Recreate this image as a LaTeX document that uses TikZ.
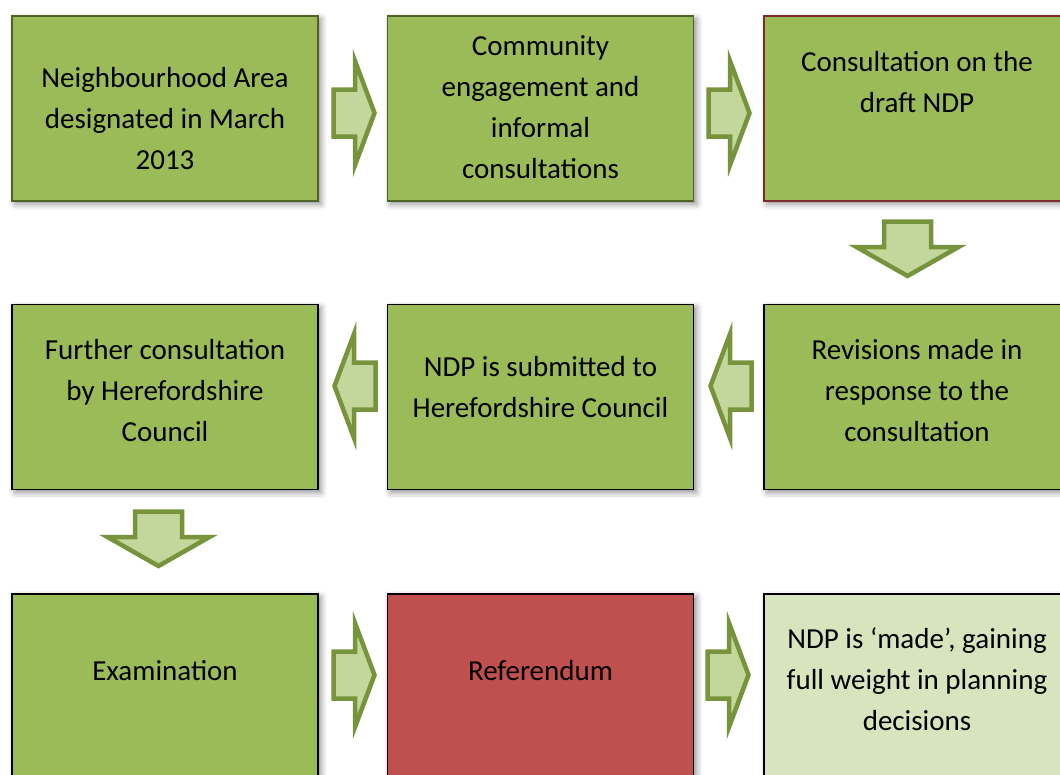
\documentclass[tikz,border=0pt]{standalone}
\usepackage{fontspec}
\setmainfont{Carlito}
\usetikzlibrary{shadows.blur}
\definecolor{boxgreen}{HTML}{9BBB59}
\definecolor{boxred}{HTML}{C0504D}
\definecolor{boxlight}{HTML}{D7E4BD}
\definecolor{darkolive}{HTML}{4F6228}
\definecolor{darkred}{HTML}{7F2B2B}
\definecolor{arrowfill}{HTML}{C3D69B}
\definecolor{arrowline}{HTML}{77933C}
\tikzset{
  stagebox/.style={rectangle, minimum width=306pt, minimum height=185pt, inner sep=0pt,
    fill=boxgreen, draw=black, line width=1.6pt,
    blur shadow={shadow xshift=3pt, shadow yshift=-3pt, shadow blur radius=6pt, shadow opacity=45}},
  stagetext/.style={align=center, inner sep=0pt, font=\fontsize{29}{41}\selectfont},
  blockarrow/.style={fill=arrowfill, draw=arrowline, line width=4.5pt, line join=miter}
}
\begin{document}
\begin{tikzpicture}[x=1pt,y=-1pt]
\useasboundingbox (0,0) rectangle (1060,774);
% boxes
\node[stagebox, draw=darkolive] (b1) at (165,108.5) {};
\node[stagebox, draw=darkolive] (b2) at (540.5,108.5) {};
\node[stagebox, draw=darkred] (b3) at (917,108.5) {};
\node[stagebox] (b4) at (165,397) {};
\node[stagebox] (b5) at (540.5,397) {};
\node[stagebox] (b6) at (917,397) {};
\node[stagebox] (b7) at (165,686.5) {};
\node[stagebox, fill=boxred] (b8) at (540.5,686.5) {};
\node[stagebox, fill=boxlight] (b9) at (917,686.5) {};
% texts
\node[stagetext] (t1) at (165,119) {Neighbourhood Area\\designated in March\\2013};
\node[stagetext] (t2) at (540.5,107.5) {Community\\engagement and\\informal\\consultations};
\node[stagetext] (t3) at (917,82) {Consultation on the\\draft NDP};
\node[stagetext] (t4) at (165,391) {Further consultation\\by Herefordshire\\Council};
\node[stagetext] (t5) at (540.5,387) {NDP is submitted to\\Herefordshire Council};
\node[stagetext] (t6) at (917,391) {Revisions made in\\response to the\\consultation};
\node[stagetext] (t7) at (165,671) {Examination};
\node[stagetext] (t8) at (540.5,671) {Referendum};
\node[stagetext] (t9) at (917,679) {NDP is ‘made’, gaining\\full weight in planning\\decisions};
% block arrows
\newcommand{\rightblock}[2]{%
  \draw[blockarrow] (#1+2.5,#2-23.5) -- (#1+24,#2-23.5) -- (#1+24,#2-52) -- (#1+43.5,#2) --
    (#1+24,#2+52) -- (#1+24,#2+23.5) -- (#1+2.5,#2+23.5) -- cycle;}
\newcommand{\leftblock}[2]{%
  \draw[blockarrow] (#1-2.5,#2-23.5) -- (#1-24,#2-23.5) -- (#1-24,#2-52) -- (#1-43.5,#2) --
    (#1-24,#2+52) -- (#1-24,#2+23.5) -- (#1-2.5,#2+23.5) -- cycle;}
\newcommand{\downblock}[2]{%
  \draw[blockarrow] (#1-23.5,#2+2.5) -- (#1-23.5,#2+28) -- (#1-51,#2+28) -- (#1,#2+57) --
    (#1+51,#2+28) -- (#1+23.5,#2+28) -- (#1+23.5,#2+2.5) -- cycle;}
\rightblock{331}{113}
\rightblock{706}{113}
\downblock{907.5}{219}
\leftblock{754}{386}
\leftblock{378}{386}
\downblock{158.5}{509}
\rightblock{331}{675}
\rightblock{705}{675}
\end{tikzpicture}
\end{document}
